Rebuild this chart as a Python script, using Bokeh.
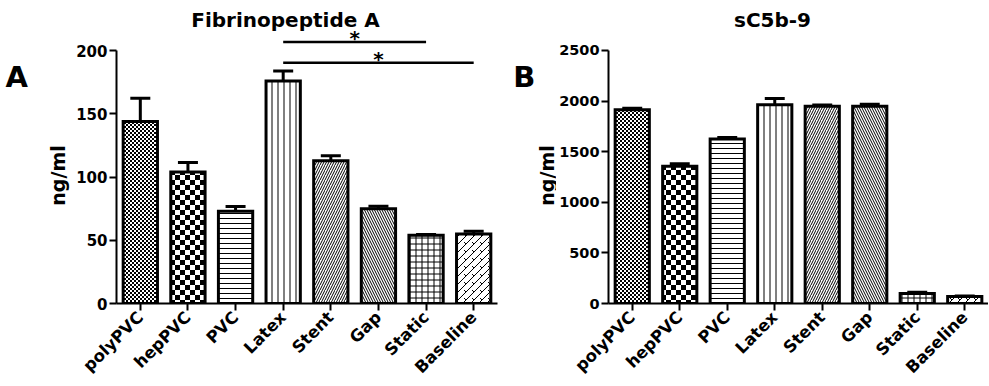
import numpy as np
from bokeh.plotting import figure
from bokeh.models import Range1d, FixedTicker, Label, CanvasTexture
from bokeh.layouts import row
from bokeh.embed import file_html
from bokeh.resources import INLINE
from bokeh.core.properties import value

# ---------------- data ----------------
categories = ["polyPVC", "hepPVC", "PVC", "Latex", "Stent", "Gap", "Static", "Baseline"]

fpa_mean = [144, 104, 73, 176, 113, 75, 54, 55]
fpa_sem = [18.5, 7.5, 3.7, 8, 4, 2, 0.6, 2.2]

c5b9_mean = [1915, 1355, 1625, 1965, 1950, 1950, 100, 68]
c5b9_sem = [15, 25, 15, 60, 12, 18, 10, 6]

fpa_ticks = [0, 50, 100, 150, 200]
c5b9_ticks = [0, 500, 1000, 1500, 2000, 2500]

sig_from = ["Latex", "Latex"]
sig_to = ["Static", "Baseline"]
sig_y = [207, 190.5]
sig_text = ["*", "*"]

y_label = "ng/ml"

# ---------------- styles ----------------
FONT = "DejaVu Sans"
patterns = ["fine_checker", "checker", "horizontal_line", "vertical_line",
            "right_diagonal_line", "left_diagonal_line", "cross", "diag_brick"]
hatch_scales = [4, 10, 5, 6, 5, 5, 6, 8]


def checker_code(n):
    return f"""
        ctx.canvas.width = {n}; ctx.canvas.height = {n};
        const s = {n} / 2;
        ctx.fillStyle = "black";
        ctx.fillRect(0, 0, s, s);
        ctx.fillRect(s, s, s, s);
    """


textures = {
    "fine_checker": CanvasTexture(code=checker_code(4)),
    "checker": CanvasTexture(code=checker_code(10)),
    "diag_brick": CanvasTexture(code="""
        const s = 8;
        ctx.canvas.width = s; ctx.canvas.height = s;
        ctx.strokeStyle = "black";
        ctx.lineWidth = 1;
        ctx.beginPath();
        ctx.moveTo(0, s); ctx.lineTo(s, 0);
        ctx.moveTo(-1, 1); ctx.lineTo(1, -1);
        ctx.moveTo(s - 1, s + 1); ctx.lineTo(s + 1, s - 1);
        ctx.moveTo(s / 4, s / 4); ctx.lineTo(s / 2, s / 2);
        ctx.stroke();
    """),
}

H = 386
BORDER_BOTTOM = 83


def side_panel(width, letter, letter_x, label_cx):
    # panel letter and rotated y-axis title (canvas pixel units)
    f = figure(width=width, height=H, output_backend="svg", toolbar_location=None,
               x_range=Range1d(0, 1), y_range=Range1d(0, 1), title=None,
               x_axis_location=None, y_axis_location=None, min_border=0)
    f.outline_line_color = None
    f.xgrid.visible = False
    f.ygrid.visible = False
    f.add_layout(Label(x=letter_x, y=76, x_units="canvas", y_units="canvas",
                       text=letter, text_font=FONT, text_font_style="bold",
                       text_font_size="29px", text_align="left",
                       text_baseline="alphabetic", text_color="black"))
    f.add_layout(Label(x=label_cx, y=175, x_units="canvas", y_units="canvas",
                       text=y_label, angle=np.pi / 2, text_font=FONT,
                       text_font_style="bold", text_font_size="19px",
                       text_align="center", text_baseline="middle", text_color="black"))
    return f


def make_panel(width, border_left, border_right, y_end, means, sems, ticks,
               title, title_cx, tick_font):
    p = figure(width=width, height=H, output_backend="svg", toolbar_location=None,
               x_range=Range1d(-0.5, 7.5), y_range=Range1d(0, y_end),
               min_border_left=border_left, min_border_right=border_right,
               min_border_top=0, min_border_bottom=BORDER_BOTTOM)
    p.outline_line_color = None
    p.xgrid.visible = False
    p.ygrid.visible = False
    p.background_fill_color = "white"
    p.border_fill_color = "white"

    x = np.arange(len(categories))
    means = np.array(means, dtype=float)
    sems = np.array(sems, dtype=float)
    tops = means + sems

    # error bars (upper only)
    p.segment(x0=x, y0=means, x1=x, y1=tops, line_width=3, line_color="black")
    p.segment(x0=x - 0.21, y0=tops, x1=x + 0.21, y1=tops, line_width=3, line_color="black")

    p.vbar(x=x, top=means, width=0.72, fill_color="white", line_color="black",
           line_width=3, line_join="miter",
           hatch_pattern=patterns, hatch_scale=hatch_scales, hatch_weight=1,
           hatch_color="black", hatch_extra=textures)

    xa = p.xaxis[0]
    ya = p.yaxis[0]
    xa.ticker = FixedTicker(ticks=list(x), minor_ticks=[])
    xa.major_label_overrides = {int(i): c for i, c in zip(x, categories)}
    xa.major_label_orientation = np.pi / 4
    xa.major_label_text_font_size = "16.5px"
    xa.major_label_text_line_height = 0.8
    xa.major_label_standoff = 4
    ya.ticker = FixedTicker(ticks=ticks, minor_ticks=[])
    ya.bounds = (ticks[0], ticks[-1])
    ya.major_label_text_font_size = tick_font
    ya.major_label_standoff = 2
    for ax in (xa, ya):
        ax.axis_line_width = 2
        ax.axis_line_color = "black"
        ax.major_tick_line_width = 2
        ax.major_tick_line_color = "black"
        ax.major_tick_out = 7
        ax.major_tick_in = 0
        ax.minor_tick_line_color = None
        ax.major_label_text_font = FONT
        ax.major_label_text_font_style = "bold"
        ax.major_label_text_color = "black"

    p.add_layout(Label(x=title_cx, y=19.5, x_units="canvas", y_units="canvas",
                       text=title, text_font=FONT, text_font_style="bold",
                       text_font_size="20px", text_align="center",
                       text_baseline="alphabetic", text_color="black"))
    return p


fA = side_panel(70, "A", 5, 57)
p1 = make_panel(438, 46, 11, 239.8, fpa_mean, fpa_sem, fpa_ticks,
                "Fibrinopeptide A", 215, "15px")

# significance bars
idx = {c: i for i, c in enumerate(categories)}
sx0 = np.array([idx[c] for c in sig_from], dtype=float)
sx1 = np.array([idx[c] for c in sig_to], dtype=float)
p1.segment(x0=sx0, y0=sig_y, x1=sx1, y1=sig_y, line_width=2.5, line_color="black")
p1.text(x=(sx0 + sx1) / 2, y=sig_y, text=sig_text, text_align="center",
        text_baseline="alphabetic", text_font=value(FONT), text_font_style="bold",
        text_font_size="20px", text_color="black", y_offset=-4)

fB = side_panel(48, "B", 4.7, 38)
p2 = make_panel(432, 52, 0, 2994, c5b9_mean, c5b9_sem, c5b9_ticks,
                "sC5b-9", 216, "14.5px")

layout = row(fA, p1, fB, p2)
open("out.html", "w").write(file_html(layout, INLINE))
